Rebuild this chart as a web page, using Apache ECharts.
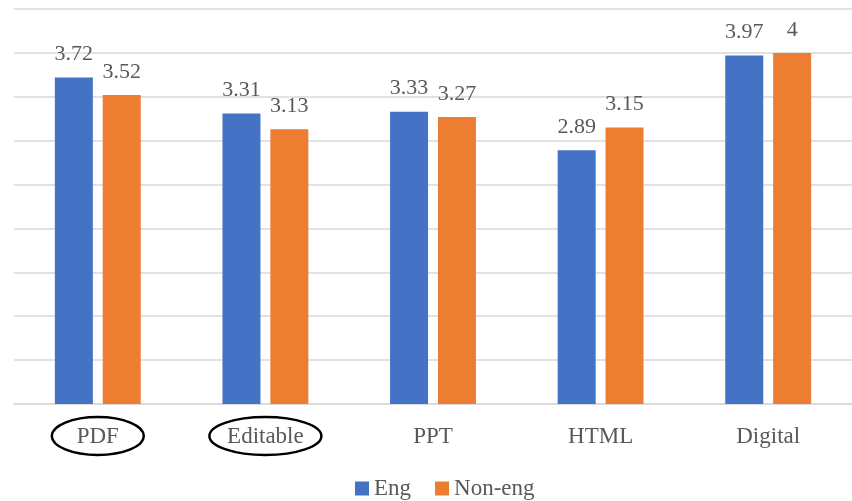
<!DOCTYPE html>
<html>
<head>
<meta charset="utf-8">
<script src="https://cdn.jsdelivr.net/npm/echarts@6/dist/echarts.min.js"></script>
<style>
  html, body { margin: 0; padding: 0; background: #fff; }
  #chart { width: 852px; height: 501px; }
</style>
</head>
<body>
<div id="chart"></div>
<script>
// Average scores by format, two respondent groups
const categories = ['PDF', 'Editable', 'PPT', 'HTML', 'Digital'];
const engScores = [3.72, 3.31, 3.33, 2.89, 3.97];
const nonEngScores = [3.52, 3.13, 3.27, 3.15, 4];
const seriesNames = ['Eng', 'Non-eng'];
// Categories highlighted with a drawn ring under the axis
const ringedCategories = ['PDF', 'Editable'];

const FONT = '"Liberation Serif", serif';
const TEXT_GRAY = '#595959';

const chart = echarts.init(document.getElementById('chart'));

const labelStyle = {
  show: true,
  position: 'top',
  distance: 12,
  color: TEXT_GRAY,
  fontFamily: FONT,
  fontSize: 22
};

chart.setOption({
  animation: false,
  backgroundColor: '#fff',
  color: ['#4472C4', '#ED7D31'],
  grid: { left: 14, right: -12, top: 9, bottom: 97, containLabel: false },
  legend: {
    bottom: -4,
    left: 350,
    itemWidth: 14,
    itemHeight: 14,
    itemGap: 24,
    icon: 'rect',
    textStyle: { color: TEXT_GRAY, fontFamily: FONT, fontSize: 23 },
    data: seriesNames
  },
  xAxis: {
    type: 'category',
    data: categories,
    axisLine: { lineStyle: { color: '#d9d9d9', width: 1.5 } },
    axisTick: { show: false },
    axisLabel: { color: TEXT_GRAY, fontFamily: FONT, fontSize: 23, margin: 21 }
  },
  yAxis: {
    type: 'value',
    min: 0,
    max: 4.5,
    interval: 0.5,
    axisLabel: { show: false },
    axisLine: { show: false },
    axisTick: { show: false },
    splitLine: { lineStyle: { color: '#d9d9d9', width: 1.5 } }
  },
  series: [
    {
      name: seriesNames[0],
      type: 'bar',
      data: engScores,
      barWidth: 38,
      barGap: '26%',
      label: labelStyle
    },
    {
      name: seriesNames[1],
      type: 'bar',
      data: nonEngScores,
      barWidth: 38,
      barGap: '26%',
      label: labelStyle
    }
  ]
});

// Rings drawn around the highlighted category labels
const ringRadiusX = { PDF: 46, Editable: 56 };
chart.setOption({
  graphic: ringedCategories.map(function (c) {
    return {
      type: 'ellipse',
      shape: {
        cx: chart.convertToPixel({ xAxisIndex: 0 }, c),
        cy: 436,
        rx: ringRadiusX[c],
        ry: 19
      },
      style: { fill: 'none', stroke: '#000', lineWidth: 2.5 },
      z: 10
    };
  })
});
</script>
</body>
</html>
